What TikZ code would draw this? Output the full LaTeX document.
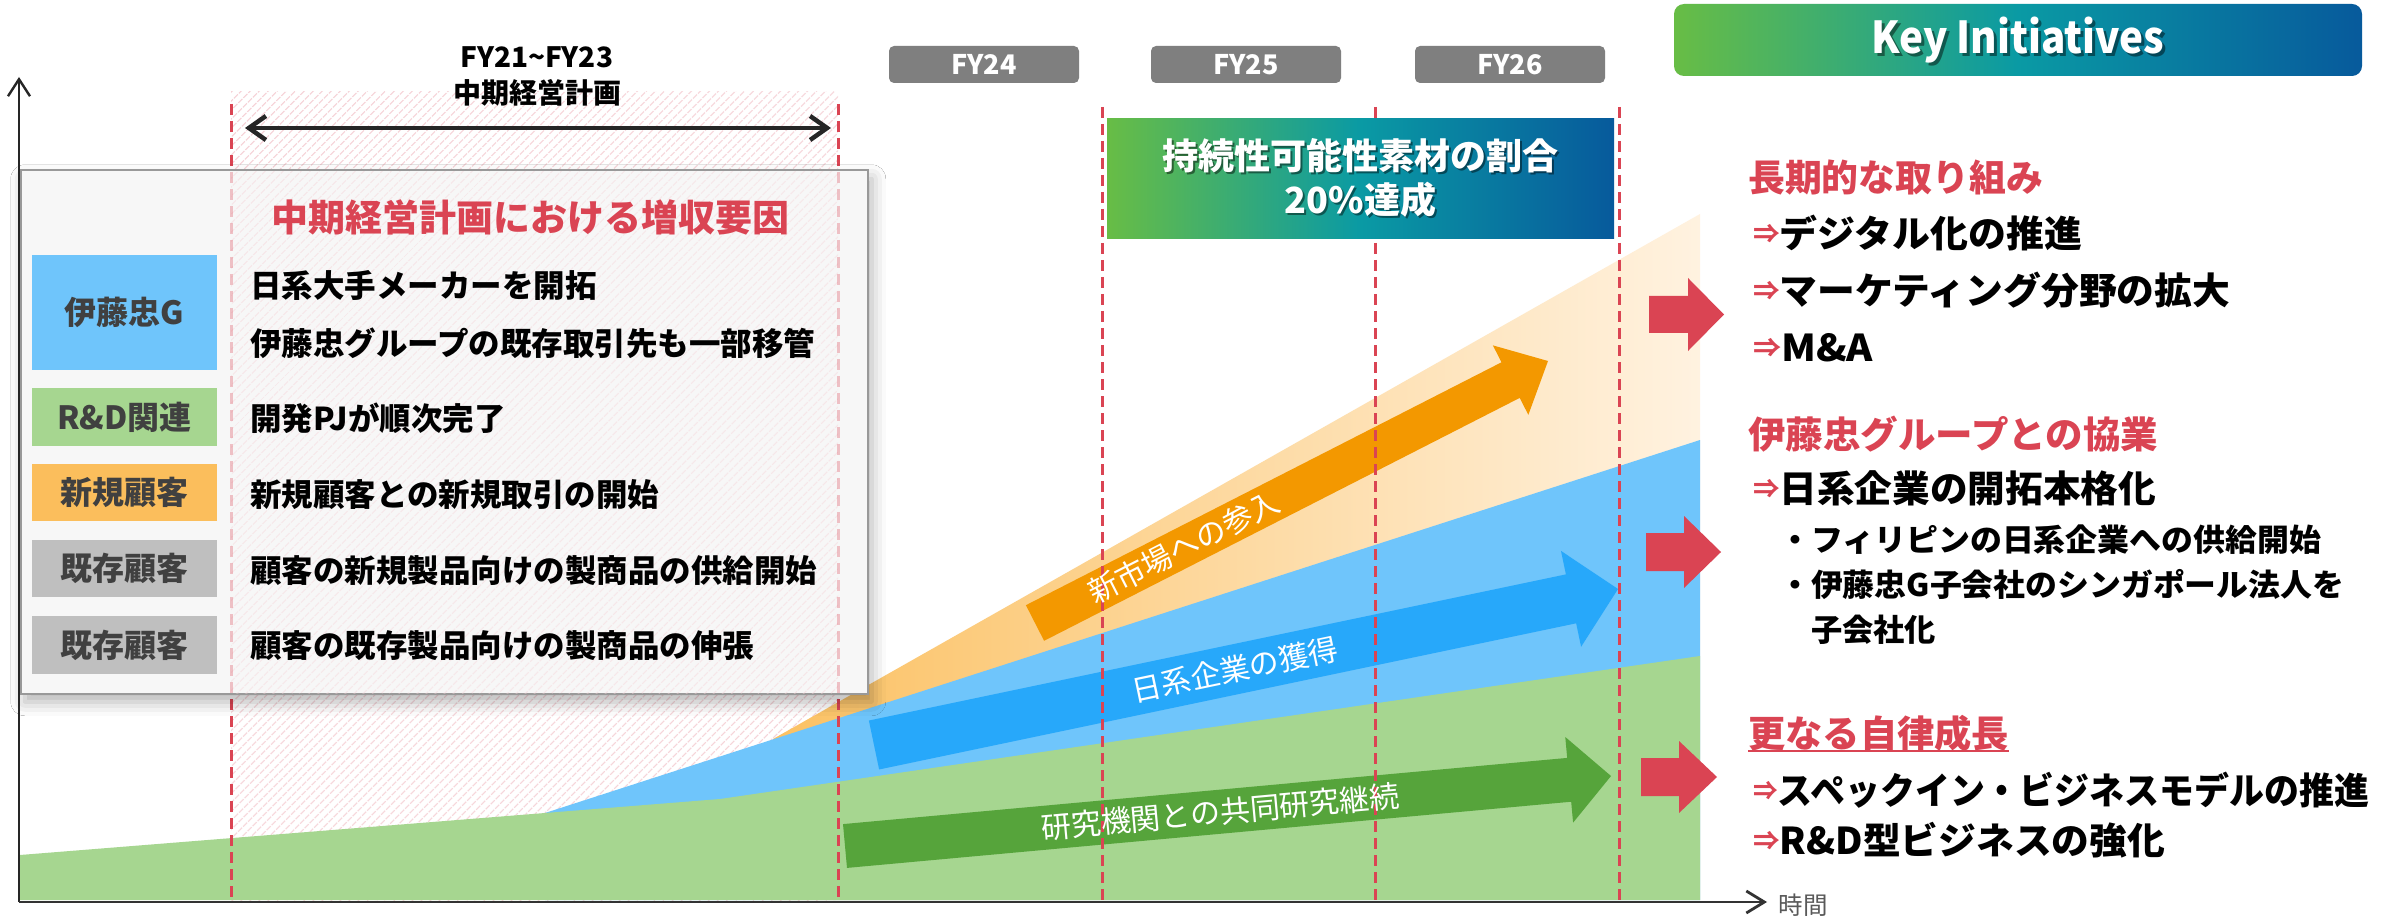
\documentclass[tikz,border=0pt]{standalone}
\usepackage{fontspec}
\setmainfont{Noto Sans CJK JP}
\usetikzlibrary{calc,arrows.meta,patterns.meta,shadows.blur}

\newcommand\fsz[1]{\fontsize{#1pt}{#1pt}\selectfont}
\newcommand\fitw[2]{\resizebox{#1pt}{\height}{#2}}

\definecolor{cgreen}{HTML}{A6D690}
\definecolor{cblue}{HTML}{6FC5FB}
\definecolor{corange}{HTML}{FBC163}
\definecolor{cpale}{HTML}{FFF2E0}
\definecolor{aorange}{HTML}{F39800}
\definecolor{ablue}{HTML}{27A8FA}
\definecolor{agreen}{HTML}{56A43B}
\definecolor{cred}{HTML}{DA4453}
\definecolor{lblorange}{HTML}{FBBE5C}
\definecolor{lblgray}{HTML}{BFBFBF}
\definecolor{fygray}{HTML}{7F7F7F}
\definecolor{hatchc}{HTML}{F6D2D7}
\definecolor{gA}{HTML}{68BD45}
\definecolor{gB}{HTML}{0A9AA4}
\definecolor{gC}{HTML}{075A9C}

\tikzset{
  dashline/.style={draw=cred, line width=3pt, dash pattern=on 11pt off 6pt},
  hatchfill/.style={pattern={Lines[angle=45,distance=6.5pt,line width=1.3pt]}, pattern color=hatchc},
  lbl/.style={minimum width=185pt, inner sep=0pt, text=black!75, font=\fsz{32}\bfseries},
  desc/.style={anchor=west, inner sep=0pt, font=\fsz{31.5}\bfseries},
  rt/.style={anchor=west, inner sep=0pt, font=\fsz{37}\bfseries},
  rhead/.style={rt, text=cred},
  subt/.style={anchor=west, inner sep=0pt, font=\fsz{31}\bfseries},
  fybox/.style={fill=fygray, rounded corners=5pt, minimum width=190pt, minimum height=37pt, inner sep=0pt, text=white, font=\fsz{27}\bfseries},
  arrtext/.style={text=white, inner sep=0pt, font=\fsz{30}, sloped},
  wtxt/.style={text=white, inner sep=0pt},
  shtxt/.style={text=black, opacity=0.45, inner sep=0pt},
  gradbox/.style={left color=gA, right color=gC, middle color=gB, inner sep=0pt},
}

\newcommand\blkarrow[6]{%
  \coordinate (#1-hb) at ($(#2)!#5!(#1)$);
  \fill[#6] ($(#1)!#3!90:(#2)$) -- ($(#1-hb)!#3!90:(#2)$) -- ($(#1-hb)!#4!90:(#2)$) -- (#2)
    -- ($(#1-hb)!#4!-90:(#2)$) -- ($(#1-hb)!#3!-90:(#2)$) -- ($(#1)!#3!-90:(#2)$) -- cycle;}

\newcommand\rarr{\raisebox{4pt}{\color{cred}\fsz{26}⇒}}

\begin{document}
\begin{tikzpicture}[x=1pt,y=-1pt]
\useasboundingbox (0,0) rectangle (2399,917);
\fill[white] (0,0) rectangle (2399,917);

% hatched period FY21-FY23
\fill[hatchfill] (231,92) rectangle (838,900);

% stacked areas
\shade[left color=corange, right color=cpale] (773,739) -- (1700,214) -- (1700,900) -- (773,900) -- cycle;
\fill[cblue] (545,813) -- (1700,440) -- (1700,900) -- (545,900) -- cycle;
\fill[cgreen] (20,855) -- (720,799) -- (1700,656) -- (1700,900) -- (20,900) -- cycle;

% big arrows
\coordinate (oa1) at (1035,623); \coordinate (oa2) at (1548,361);
\coordinate (ba1) at (874,745);  \coordinate (ba2) at (1618,589);
\coordinate (ga1) at (845,846);  \coordinate (ga2) at (1611,776);
\blkarrow{oa1}{oa2}{20pt}{39pt}{42pt}{aorange}
\blkarrow{ba1}{ba2}{25pt}{49pt}{48pt}{ablue}
\blkarrow{ga1}{ga2}{22pt}{43pt}{42pt}{agreen}

% dashed year lines
\foreach \i/\x/\y in {1/231/104, 2/838/104, 3/1102/107, 4/1375/107, 5/1619/107}{
  \coordinate (dt\i) at (\x,\y);
  \coordinate (db\i) at (\x,900);
  \draw[dashline] (dt\i) -- (db\i);
}

% arrow texts
\path (oa1) -- node[arrtext, pos=0.29] (oat) {新市場への参入} (oa2);
\path (ba1) -- node[arrtext, pos=0.485] (bat) {日系企業の獲得} (ba2);
\path (ga1) -- node[arrtext, pos=0.49] (gat) {研究機関との共同研究継続} (ga2);

% info box
\node[draw=black!40, line width=1.5pt, fill=black!3, minimum width=847pt, minimum height=523pt,
      anchor=north west, inner sep=0pt,
      blur shadow={shadow xshift=4pt, shadow yshift=-8pt, shadow blur radius=14pt, shadow opacity=30}] (box) at (20,170) {};
\begin{scope}
  \clip (box.north west) rectangle (box.south east);
  \fill[hatchfill, opacity=0.45] (231,92) rectangle (838,900);
  \draw[dashline, draw opacity=0.3] (dt1) -- (db1);
  \draw[dashline, draw opacity=0.3] (dt2) -- (db2);
\end{scope}
\draw[black!40, line width=1.5pt] (box.north west) rectangle (box.south east);

\node[text=cred, inner sep=0pt, font=\fsz{37}\bfseries] (btitle) at (530,217) {中期経営計画における増収要因};

\node[lbl, fill=cblue, minimum height=115pt] (l1) at (124.5,312.5) {伊藤忠G};
\node[lbl, fill=cgreen, minimum height=58pt] (l2) at (124.5,417) {R\&D関連};
\node[lbl, fill=lblorange, minimum height=57pt] (l3) at (124.5,492.5) {新規顧客};
\node[lbl, fill=lblgray, minimum height=57pt] (l4) at (124.5,568.5) {既存顧客};
\node[lbl, fill=lblgray, minimum height=58pt] (l5) at (124.5,645) {既存顧客};

\node[desc] (t1a) at (250,285) {日系大手メーカーを開拓};
\node[desc] (t1b) at (250,343) {伊藤忠グループの既存取引先も一部移管};
\node[desc] (t2) at (250,418) {開発PJが順次完了};
\node[desc] (t3) at (250,495) {新規顧客との新規取引の開始};
\node[desc] (t4) at (250,571) {顧客の新規製品向けの製商品の供給開始};
\node[desc] (t5) at (250,646) {顧客の既存製品向けの製商品の伸張};

% axes
\coordinate (org) at (19,902);
\coordinate (ytop) at (19,77);
\coordinate (xend) at (1767,902);
\draw[black!85, line width=2.4pt, -{Straight Barb[length=17pt, width=22pt]}] (org) -- (ytop);
\draw[black!80, line width=2.8pt, -{Straight Barb[length=18pt, width=22pt]}] (org) -- (xend);
\node[text=black!65, inner sep=0pt, font=\fsz{24.5}] (time) at (1803,905) {時間};

% medium-term plan header
\node[inner sep=0pt, font=\fsz{28}\bfseries] (fy2123) at (537,57) {FY21\textasciitilde FY23};
\node[inner sep=0pt, font=\fsz{28}\bfseries] (mtp) at (537,93) {中期経営計画};
\coordinate (pa1) at (245,128); \coordinate (pa2) at (831,128);
\draw[black!85, line width=4.5pt, {Straight Barb[length=17pt, width=24pt]}-{Straight Barb[length=17pt, width=24pt]}] (pa1) -- (pa2);

% FY boxes
\node[fybox] (fy24) at (984,64.5) {FY24};
\node[fybox] (fy25) at (1246,64.5) {FY25};
\node[fybox] (fy26) at (1510,64.5) {FY26};

% goal box
\node[gradbox, minimum width=507pt, minimum height=120pt] (goal) at (1360.5,179) {};
\node[shtxt, font=\fsz{36}\bfseries] (g1s) at (1362.5,158) {持続性可能性素材の割合};
\node[wtxt, font=\fsz{36}\bfseries] (g1) at (1360.5,156) {持続性可能性素材の割合};
\node[shtxt, font=\fsz{36}\bfseries] (g2s) at (1362.5,202) {20\%達成};
\node[wtxt, font=\fsz{36}\bfseries] (g2) at (1360.5,200) {20\%達成};

% Key Initiatives
\node[gradbox, rounded corners=10pt, minimum width=688pt, minimum height=72pt] (kibox) at (2018,40) {};
\node[shtxt, font=\fsz{44}\bfseries] (kis) at (2021,43) {\fitw{293}{Key Initiatives}};
\node[wtxt, font=\fsz{44}\bfseries] (ki) at (2018,40) {\fitw{293}{Key Initiatives}};

% red arrows
\coordinate (r1a) at (1649,314.5); \coordinate (r1b) at (1724,314.5);
\coordinate (r2a) at (1646,552);   \coordinate (r2b) at (1721,552);
\coordinate (r3a) at (1641,777);   \coordinate (r3b) at (1717,777);
\blkarrow{r1a}{r1b}{18.5pt}{36.5pt}{36pt}{cred}
\blkarrow{r2a}{r2b}{19pt}{36pt}{37pt}{cred}
\blkarrow{r3a}{r3b}{19pt}{36pt}{38pt}{cred}

% right side texts
\node[rhead] (h1) at (1748,177) {\fitw{295}{長期的な取り組み}};
\node[rt] (h1a) at (1753,233) {\fitw{329}{\rarr デジタル化の推進}};
\node[rt] (h1b) at (1753,290) {\fitw{477}{\rarr マーケティング分野の拡大}};
\node[rt] (h1c) at (1753,348) {\fitw{120}{\rarr M\&A}};

\node[rhead] (h2) at (1748,434) {\fitw{410}{伊藤忠グループとの協業}};
\node[rt] (h2a) at (1753,488) {\fitw{403}{\rarr 日系企業の開拓本格化}};
\node[subt] (h2b) at (1779,540) {\fitw{542}{・フィリピンの日系企業への供給開始}};
\node[subt] (h2c) at (1779,585) {\fitw{565}{・伊藤忠G子会社のシンガポール法人を}};
\node[subt] (h2d) at (1811,630) {\fitw{125}{子会社化}};

\node[rhead] (h3) at (1748,733) {\fitw{261}{更なる自律成長}};
\coordinate (ul1) at (1748,751); \coordinate (ul2) at (2009,751);
\draw[cred, line width=2pt] (ul1) -- (ul2);
\node[rt] (h3a) at (1753,790) {\fitw{616}{\rarr スペックイン・ビジネスモデルの推進}};
\node[rt] (h3b) at (1753,840) {\fitw{412}{\rarr R\&D型ビジネスの強化}};
\end{tikzpicture}
\end{document}
